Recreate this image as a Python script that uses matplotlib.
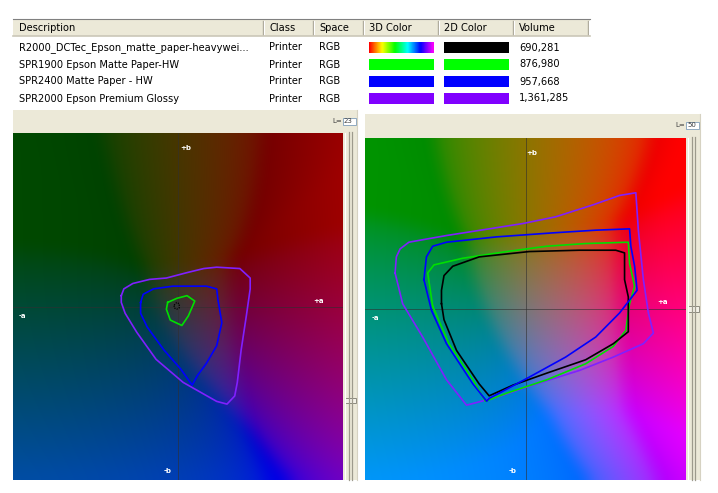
import numpy as np
import matplotlib.pyplot as plt
from matplotlib.patches import Rectangle

W, H = 718, 493
BEIGE = "#ECE9D8"

# ---- table contents
headers = ["Description", "Class", "Space", "3D Color", "2D Color", "Volume"]
descriptions = ["R2000_DCTec_Epson_matte_paper-heavywei...",
                "SPR1900 Epson Matte Paper-HW",
                "SPR2400 Matte Paper - HW",
                "SPR2000 Epson Premium Glossy"]
classes = ["Printer", "Printer", "Printer", "Printer"]
spaces = ["RGB", "RGB", "RGB", "RGB"]
colors_3d = ["rainbow", "#00FF00", "#0000FF", "#8000FF"]
colors_2d = ["#000000", "#00FF00", "#0000FF", "#8000FF"]
volumes = [690281, 876980, 957668, 1361285]

# ---- gamut outlines, (a*, b*) pairs
L_left = 23
left_r2000 = [(-3, 1), (-1, 3), (1, 2), (1, -1), (-1, -2), (-3, -1)]
left_spr1900 = [(-8, 3), (-1, 6), (7, 8), (13, 4), (8, -7), (3, -14), (-6, -10), (-9, -2)]
left_spr2400 = [(-29, 3), (-27, 9), (-19, 13), (-4, 15), (12, 15), (22, 15), (30, 13),
                (31, 5), (34, -12), (30, -29), (22, -42), (15, -51), (11, -58), (2, -46),
                (-11, -32), (-24, -15), (-29, -5)]
left_spr2000 = [(-44, 8), (-42, 13), (-35, 17), (-22, 20), (-9, 21), (7, 25), (20, 28),
                (30, 29), (48, 28), (56, 21), (56, 13), (53, -7), (49, -32), (46, -56),
                (44, -66), (38, -72), (30, -70), (4, -56), (-17, -39), (-32, -19),
                (-41, -5), (-44, 3)]

L_right = 50
right_r2000 = [(-67, 4), (-67, 14), (-65, 25), (-58, 32), (-37, 39), (3, 43), (43, 44),
               (72, 44), (79, 42), (79, 22), (82, 9), (82, -17), (70, -26), (48, -38),
               (17, -48), (-10, -57), (-29, -65), (-37, -56), (-55, -31), (-65, -8)]
right_spr1900 = [(-74, 2), (-78, 27), (-73, 33), (-50, 38), (-15, 43), (17, 47), (48, 49),
                 (82, 50), (83, 34), (87, 17), (83, 4), (80, -16), (70, -28), (48, -41),
                 (17, -53), (-15, -63), (-32, -69), (-42, -53), (-61, -26)]
right_spr2400 = [(-81, 22), (-79, 39), (-74, 47), (-63, 50), (-23, 54), (22, 57), (56, 59),
                 (83, 60), (84, 47), (87, 32), (89, 14), (75, -3), (56, -21), (32, -36),
                 (3, -51), (-29, -67), (-31, -69), (-42, -56), (-63, -26), (-75, -1)]
right_spr2000 = [(-104, 27), (-103, 39), (-100, 45), (-93, 50), (-63, 55), (-29, 60),
                 (-2, 64), (24, 69), (54, 78), (75, 85), (88, 87), (90, 59), (94, 22),
                 (98, -3), (102, -18), (94, -26), (70, -36), (43, -46), (9, -56),
                 (-23, -66), (-47, -72), (-63, -53), (-82, -21), (-98, 4)]

axis_labels = ["+b", "-b", "+a", "-a"]
left_label_pos = [(6, 117), (-8, -121), (109, 4), (-121, -7)]
right_label_pos = [(5, 117), (-10, -121), (109, 5), (-120, -7)]

M_XYZ_RGB = np.array([[3.1338561, -1.6168667, -0.4906146],
                      [-0.9787684, 1.9161415, 0.0334540],
                      [0.0719453, -0.2289914, 1.4052427]])


def lab_to_linear(L, A, B):
    d = 6 / 29

    def finv(t):
        return np.where(t > d, t ** 3, 3 * d ** 2 * (t - 4 / 29))
    fy = (L + 16) / 116
    X = 0.96422 * finv(fy + A / 500)
    Y = np.full_like(A, finv(np.array(fy)))
    Z = 0.82521 * finv(fy - B / 200)
    return np.stack([X, Y, Z], axis=-1) @ M_XYZ_RGB.T


def smooth(img, k=17):
    # separable box blur, edges padded
    ker = np.ones(k) / k
    pad = k // 2
    out = np.pad(img, ((pad, pad), (pad, pad), (0, 0)), mode="edge")
    out = np.apply_along_axis(lambda v: np.convolve(v, ker, mode="valid"), 0, out)
    out = np.apply_along_axis(lambda v: np.convolve(v, ker, mode="valid"), 1, out)
    return out


def lab_plane(L, n=300, keep=0.5):
    """a*b* plane at lightness L; out-of-gamut colours pulled towards grey, then clipped."""
    a = np.linspace(-128, 128, n)
    A, B = np.meshgrid(a, a)
    lo, hi = np.zeros_like(A), np.ones_like(A)
    for _ in range(18):
        mid = (lo + hi) / 2
        lin = lab_to_linear(L, A * mid, B * mid)
        ok = np.all((lin >= 0) & (lin <= 1), axis=-1)
        lo = np.where(ok, mid, lo)
        hi = np.where(ok, hi, mid)
    s = lo + keep * (1 - lo)
    rgb = np.clip(lab_to_linear(L, A * s, B * s), 0, 1)
    rgb = np.where(rgb <= 0.0031308, 12.92 * rgb, 1.055 * rgb ** (1 / 2.4) - 0.055)
    return np.clip(smooth(rgb), 0, 1)


def px_axes(fig, x0, y0, x1, y1):
    return fig.add_axes([x0 / W, 1 - y1 / H, (x1 - x0) / W, (y1 - y0) / H])


fig = plt.figure(figsize=(W / 100, H / 100), dpi=100)
fig.patch.set_facecolor("white")
plt.rcParams["font.family"] = ["DejaVu Sans"]
FS = 7.1

bg = fig.add_axes([0, 0, 1, 1])
bg.set_xlim(0, W)
bg.set_ylim(H, 0)
bg.axis("off")

# ---- table header
col_x = [13, 263, 313, 363, 438, 513, 588]
bg.add_patch(Rectangle((13, 19), 577, 17, fc=BEIGE, ec="none"))
bg.plot([13, 590], [19, 19], color="#808080", lw=0.8)
bg.plot([13, 590], [35.5, 35.5], color="#CBC7B8", lw=1.2)
for x in col_x[1:]:
    bg.plot([x, x], [21, 34], color="#ACA899", lw=1.0)
    bg.plot([x + 1, x + 1], [21, 34], color="white", lw=0.8)
for x, h in zip(col_x, headers):
    bg.text(x + 6, 28, h, fontsize=FS, va="center", ha="left", color="black")

# ---- table rows
for i in range(len(descriptions)):
    y = 47.5 + 17 * i
    bg.text(19, y, descriptions[i], fontsize=FS, va="center", color="black")
    bg.text(269, y, classes[i], fontsize=FS, va="center", color="black")
    bg.text(319, y, spaces[i], fontsize=FS, va="center", color="black")
    bg.text(519, y, f"{volumes[i]:,}", fontsize=FS, va="center", color="black")
    if colors_3d[i] == "rainbow":
        grad = plt.cm.hsv(np.linspace(0, 0.85, 120))[np.newaxis, :, :3]
        bg.imshow(grad, extent=(369, 434, y + 5.5, y - 5.5), aspect="auto",
                  interpolation="bilinear")
    else:
        bg.add_patch(Rectangle((369, y - 5.5), 65, 11, fc=colors_3d[i], ec="none"))
    bg.add_patch(Rectangle((444, y - 5.5), 65, 11, fc=colors_2d[i], ec="none"))
bg.set_xlim(0, W)
bg.set_ylim(H, 0)


def panel(x0, y0, ytop, sx, L, thumb_y):
    # beige frame, L= box and slider
    bg.add_patch(Rectangle((x0, y0), sx + 14 - x0, 480 - y0, fc=BEIGE, ec="none"))
    bg.text(sx - 1, y0 + 11, "L=", fontsize=5, ha="right", va="center", color="#404040")
    bg.add_patch(Rectangle((sx, y0 + 7.5), 13, 7, fc="white", ec="#7F9DB9", lw=0.6))
    bg.text(sx + 1, y0 + 11, str(L), fontsize=5, ha="left", va="center", color="#404040")
    bg.plot([sx + 2, sx + 2], [ytop, 480], color="white", lw=0.8)
    bg.plot([sx + 6, sx + 6], [ytop - 1, 480], color="#9D9A8C", lw=0.9)
    bg.plot([sx + 9, sx + 9], [ytop - 1, 480], color="#9D9A8C", lw=0.9)
    bg.plot([sx + 13.5, sx + 13.5], [y0, 480], color="#D6D2C2", lw=0.8)
    bg.add_patch(Rectangle((sx + 2, thumb_y), 11, 5.5, fc="#F3F1E7", ec="#8C8A7E", lw=0.7))


panel(13, 110, 133, 343, L_left, 397.5)
panel(365, 114, 138, 686, L_right, 306)


def draw_plane(rect, L, outlines, label_pos):
    ax = px_axes(fig, *rect)
    ax.imshow(lab_plane(L), extent=(-128, 128, -128, 128), origin="lower",
              aspect="auto", interpolation="bilinear")
    ax.axhline(0, color="#303030", lw=0.7, alpha=0.6)
    ax.axvline(0, color="#303030", lw=0.7, alpha=0.6)
    for pts, color, ls, lw in outlines:
        p = np.array(pts + pts[:1])
        ax.plot(p[:, 0], p[:, 1], color=color, lw=lw, ls=ls)
    for t, (a, b) in zip(axis_labels, label_pos):
        ax.text(a, b, t, fontsize=5, color="white", weight="bold",
                ha="center", va="center")
    ax.set_xlim(-128, 128)
    ax.set_ylim(-128, 128)
    ax.axis("off")
    return ax


draw_plane((13, 133, 343, 480), L_left,
           [(left_spr2000, "#8020FF", "-", 1.2),
            (left_spr2400, "#0000FF", "-", 1.2),
            (left_spr1900, "#00E000", "-", 1.2),
            (left_r2000, "black", (0, (1, 1)), 0.9)],
           left_label_pos)
draw_plane((365, 138, 686, 480), L_right,
           [(right_spr2000, "#8020FF", "-", 1.2),
            (right_spr1900, "#00E000", "-", 1.2),
            (right_r2000, "black", "-", 1.2),
            (right_spr2400, "#0000FF", "-", 1.2)],
           right_label_pos)

fig.savefig("out.png", dpi=100)
